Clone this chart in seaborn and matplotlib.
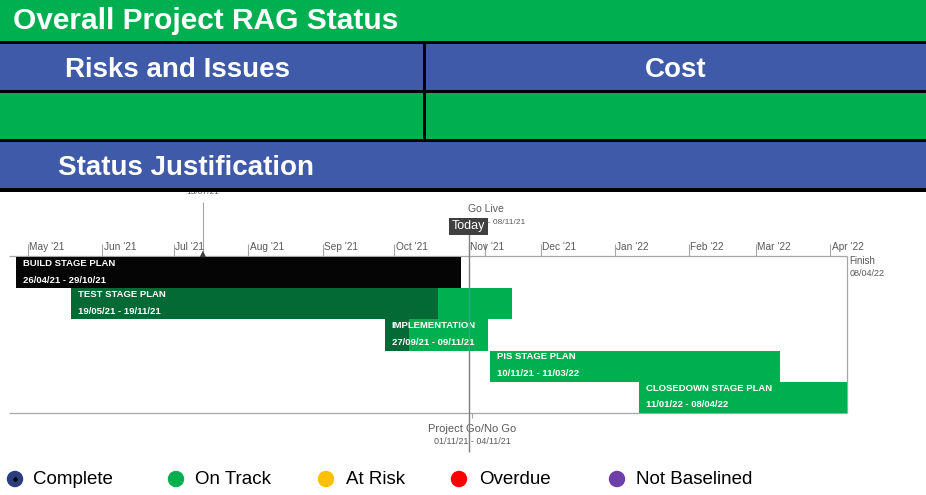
# Project status dashboard: RAG header + stage Gantt timeline + legend
import numpy as np
import pandas as pd
import matplotlib
matplotlib.use("Agg")
import matplotlib.pyplot as plt
import matplotlib.dates as mdates
from matplotlib.patches import Rectangle
import seaborn as sns

# =========================================================
# DATA
# =========================================================

tasks = ["BUILD STAGE PLAN", "TEST STAGE PLAN", "IMPLEMENTATION",
         "PIS STAGE PLAN", "CLOSEDOWN STAGE PLAN"]
starts = pd.to_datetime(["2021-04-26", "2021-05-19", "2021-09-27",
                         "2021-11-10", "2022-01-11"])
ends = pd.to_datetime(["2021-10-29", "2021-11-19", "2021-11-09",
                       "2022-03-11", "2022-04-08"])
# date up to which each bar is drawn as done
done_until = pd.to_datetime(["2021-10-29", "2021-10-19", "2021-10-07",
                             "2021-11-10", "2022-01-11"])
done_colors = ["#050505", "#046A35", "#046A35", "#046A35", "#046A35"]

today = pd.Timestamp("2021-11-01")
go_live = pd.Timestamp("2021-11-08")
go_nogo = pd.to_datetime(["2021-11-01", "2021-11-04"])
early_milestone = pd.Timestamp("2021-07-13")
timeline_start = pd.Timestamp("2021-04-23")
finish = pd.Timestamp("2022-04-08")
months = pd.date_range("2021-05-01", "2022-04-01", freq="MS")

legend_labels = ["Complete", "On Track", "At Risk", "Overdue", "Not Baselined"]
legend_colors = ["#2B3E7E", "#00B050", "#FFC000", "#FF0000", "#6E3FA8"]

# =========================================================
# STYLE
# =========================================================

sns.set_style("white")
plt.rcParams["font.family"] = ["Liberation Sans", "DejaVu Sans"]
NARROW = ["Liberation Sans Narrow", "Liberation Sans"]

GREEN = "#00B050"
BLUE = "#3F5AA8"
GREY_TXT = "#595959"
GREY_LN = "#A6A6A6"

W, H = 926, 495
fig = plt.figure(figsize=(W / 100, H / 100), dpi=100)

# =========================================================
# HEADER BANDS (pixel coordinates)
# =========================================================

bg = fig.add_axes([0, 0, 1, 1])
bg.set_xlim(0, W)
bg.set_ylim(H, 0)
bg.axis("off")

bands = [(0, 42, GREEN), (41, 3, "black"), (44, 46, BLUE), (90, 3, "black"),
         (93, 46, GREEN), (139, 3, "black"), (142, 46, BLUE), (188, 4, "black")]
for y0, h, c in bands:
    bg.add_patch(Rectangle((0, y0), W, h, color=c, lw=0))
bg.add_patch(Rectangle((423, 44), 3, 96, color="black", lw=0))

hdr = dict(color="white", fontweight="bold", va="baseline")
bg.text(13, 29, "Overall Project RAG Status", fontsize=21.5, ha="left", **hdr)
bg.text(65, 77, "Risks and Issues", fontsize=20, ha="left", **hdr)
bg.text(676, 77, "Cost", fontsize=20, ha="center", **hdr)
bg.text(58, 175, "Status Justification", fontsize=20, ha="left", **hdr)

# =========================================================
# GANTT
# =========================================================

top_px, bot_px = 192, 455
row_px, row0_px = 31.2, 257
ax = fig.add_axes([0, (H - bot_px) / H, 1, (bot_px - top_px) / H])
ax.patch.set_alpha(0)


def r(py):
    # pixel row -> gantt row units
    return (py - row0_px) / row_px


ppd = 2.395  # pixels per day
x0 = mdates.date2num(months[0])
ax.set_xlim(x0 - 28 / ppd, x0 + (W - 28) / ppd)
ax.set_ylim(r(bot_px), r(top_px))
ax.axis("off")

# frame
ax.hlines(r(256), timeline_start, finish, color=GREY_LN, lw=0.9, zorder=1)
ax.hlines(5, timeline_start, finish, color=GREY_LN, lw=0.9, zorder=1)
ax.vlines(finish, r(256), 5, color=GREY_LN, lw=0.9, zorder=1)

# month ticks
ax.vlines(months, r(244), r(256), color=GREY_LN, lw=0.8)
for m in months:
    ax.annotate(m.strftime("%b '%y"), xy=(m, r(247)), xytext=(1, 0),
                textcoords="offset points", ha="left", va="center",
                fontsize=7.3, color=GREY_TXT, family=NARROW)

# bars
for i, t in enumerate(tasks):
    ax.barh(i, ends[i] - starts[i], left=starts[i], height=1, align="edge",
            color=GREEN, lw=0, zorder=2)
    if done_until[i] > starts[i]:
        ax.barh(i, done_until[i] - starts[i], left=starts[i], height=1,
                align="edge", color=done_colors[i], lw=0, zorder=2)
    lbl = dict(xy=(starts[i], i), textcoords="offset points", ha="left",
               va="center", color="white", fontsize=6.8, fontweight="bold",
               family=NARROW, zorder=3)
    ax.annotate(t, xytext=(5, -4.6), **lbl)
    ax.annotate(f"{starts[i]:%d/%m/%y} - {ends[i]:%d/%m/%y}",
                xytext=(5, -16.6), **lbl)

# finish label
ax.annotate("Finish", xy=(finish, r(261)), xytext=(1.5, 0),
            textcoords="offset points", ha="left", va="center",
            fontsize=7, color=GREY_TXT, family=NARROW)
ax.annotate(f"{finish:%d/%m/%y}", xy=(finish, r(274)), xytext=(1.5, 0),
            textcoords="offset points", ha="left", va="center",
            fontsize=6.5, color=GREY_TXT, family=NARROW)

# early milestone (label cut off at top)
ax.vlines(early_milestone, r(202), r(255), color=GREY_LN, lw=0.8)
sns.scatterplot(x=[early_milestone], y=[r(254)], marker="^", s=22,
                color="#404040", edgecolor="none", ax=ax, zorder=4)
ax.text(early_milestone, r(192), f"{early_milestone:%d/%m/%y}", ha="center",
        va="center", fontsize=6, color=GREY_TXT, family=NARROW, clip_on=True)

# go live
ax.vlines(go_live, r(243), r(256), color=GREY_LN, lw=0.8)
ax.text(go_live, r(209), "Go Live", ha="center", va="center",
        fontsize=7.5, color=GREY_TXT, family=NARROW)
ax.annotate(f"{go_live:%d/%m/%y} - {go_live:%d/%m/%y}", xy=(go_live, r(223)),
            xytext=(3, 0), textcoords="offset points", ha="center",
            va="center", fontsize=6, color=GREY_TXT, family=NARROW)

# today (box sits on top of the go-live dates, as in the source)
ax.vlines(today, r(234), r(452), color="#7F7F7F", lw=1, zorder=5)
ax.text(today, r(226), "Today", ha="center", va="center", fontsize=9,
        color="white", family=NARROW, zorder=6,
        bbox=dict(boxstyle="square,pad=0.2", fc="#404040", ec="none"))

# project go / no go
gng_mid = go_nogo[0] + (go_nogo[1] - go_nogo[0]) / 2
ax.vlines(gng_mid, 5, r(418), color=GREY_LN, lw=0.8)
ax.text(gng_mid, r(429), "Project Go/No Go", ha="center", va="center",
        fontsize=8, color=GREY_TXT, family=NARROW)
ax.text(gng_mid, r(442), f"{go_nogo[0]:%d/%m/%y} - {go_nogo[1]:%d/%m/%y}",
        ha="center", va="center", fontsize=6.5, color=GREY_TXT, family=NARROW)

# =========================================================
# LEGEND
# =========================================================

legend_x = [15, 176, 326, 459, 617]
text_x = [33, 195, 346, 479, 636]
leg_y = 479
sns.scatterplot(x=legend_x, y=[leg_y] * len(legend_x), hue=legend_labels,
                palette=legend_colors, s=140, edgecolor="none", legend=False,
                ax=bg, zorder=3)
bg.scatter([legend_x[0]], [leg_y], s=5, color="black", zorder=4)
for tx, lab in zip(text_x, legend_labels):
    bg.text(tx, leg_y, lab, ha="left", va="center", fontsize=13.5, color="black")

fig.savefig("out.png", dpi=100)
